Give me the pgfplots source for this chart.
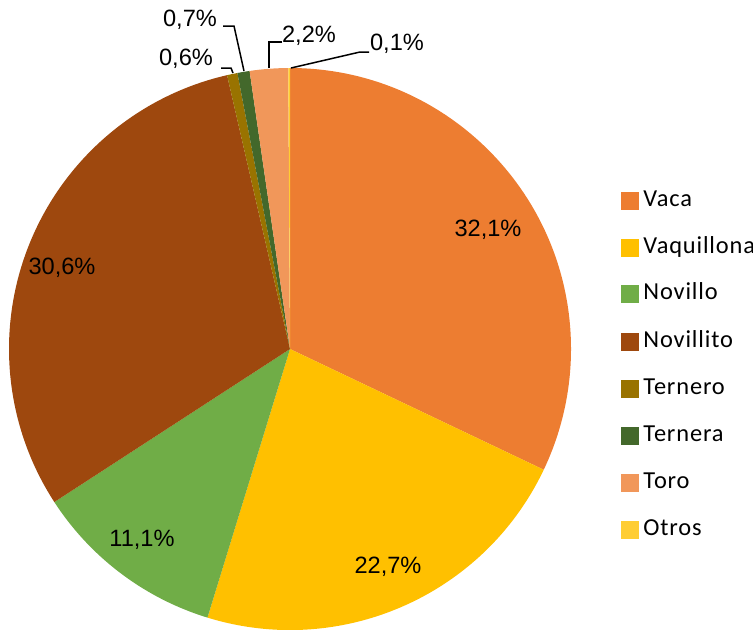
\documentclass[border=0pt]{standalone}
\usepackage{pgfplots}
\usepackage{pgfplotstable}
\pgfplotsset{compat=1.18}
\usepackage{fontspec}
\setmainfont{Liberation Sans}
\newfontfamily\carlito[LetterSpace=3.5]{Carlito}
\definecolor{cVaca}{HTML}{ED7D31}
\definecolor{cVaquillona}{HTML}{FFC000}
\definecolor{cNovillo}{HTML}{70AD47}
\definecolor{cNovillito}{HTML}{9E480E}
\definecolor{cTernero}{HTML}{997300}
\definecolor{cTernera}{HTML}{43682B}
\definecolor{cToro}{HTML}{F1975A}
\definecolor{cOtros}{HTML}{FFCD33}

\pgfplotstableread{
label value color legy
Vaca 32.1 cVaca 428
Vaquillona 22.7 cVaquillona 381
Novillo 11.1 cNovillo 335
Novillito 30.6 cNovillito 287
Ternero 0.6 cTernero 240
Ternera 0.7 cTernera 193
Toro 2.2 cToro 146
Otros 0.1 cOtros 99
}\piedata

\begin{document}
\begin{tikzpicture}
\begin{axis}[
  hide axis, x=0.5pt, y=0.5pt,
  xmin=0, xmax=753, ymin=0, ymax=629,
  enlargelimits=false, clip=false, scale only axis,
  anchor=south west, at={(0,0)},
]
\pgfplotsextra{
  \gdef\piecum{0}
  \pgfplotsforeachungrouped \i in {0,...,7}{
    \pgfplotstablegetelem{\i}{value}\of{\piedata}\let\pieval\pgfplotsretval
    \pgfplotstablegetelem{\i}{color}\of{\piedata}\let\piecol\pgfplotsretval
    \pgfplotstablegetelem{\i}{label}\of{\piedata}\let\pielab\pgfplotsretval
    \pgfplotstablegetelem{\i}{legy}\of{\piedata}\let\pielegy\pgfplotsretval
    \pgfmathsetmacro\piesa{90-\piecum/100.1*360}
    \pgfmathsetmacro\pieea{90-(\piecum+\pieval)/100.1*360}
    \fill[fill=\piecol] (axis cs:290,280) -- ++(\piesa:140.5pt)
      arc[start angle=\piesa, end angle=\pieea, radius=140.5pt] -- cycle;
    \pgfmathsetmacro\piecum{\piecum+\pieval}
    \xdef\piecum{\piecum}
    % legend
    \pgfmathsetmacro\legbot{\pielegy-9}
    \pgfmathsetmacro\legtop{\pielegy+9}
    \fill[fill=\piecol] (axis cs:621,\legbot) rectangle (axis cs:639,\legtop);
    \node[anchor=west, inner sep=0pt, font=\carlito\fontsize{12.2}{14}\selectfont]
      at (axis cs:643,\pielegy) {\strut\pielab};
  }
  % data labels
  \begin{scope}[every node/.style={font=\fontsize{11.8}{13}\selectfont, inner sep=0pt}]
    \node at (axis cs:488,399) {32,1\%};
    \node at (axis cs:388,62) {22,7\%};
    \node at (axis cs:142,89) {11,1\%};
    \node at (axis cs:62,361) {30,6\%};
    \node at (axis cs:397,585) {0,1\%};
    \node at (axis cs:309,593) {2,2\%};
    \node at (axis cs:190,609) {0,7\%};
    \node at (axis cs:186,570) {0,6\%};
  \end{scope}
  \begin{scope}[line width=0.75pt, black]
    \draw (axis cs:291,561) -- (axis cs:360,577) -- (axis cs:369,577);
    \draw (axis cs:269,561) -- (axis cs:269,587) -- (axis cs:282,587);
    \draw (axis cs:244,558) -- (axis cs:234,603) -- (axis cs:223,603);
    \draw (axis cs:233,556) -- (axis cs:231,561) -- (axis cs:221,561);
  \end{scope}
}
\end{axis}
\pgfresetboundingbox
\path[use as bounding box] (0,0) rectangle (376.5pt,314.5pt);
\end{tikzpicture}
\end{document}
